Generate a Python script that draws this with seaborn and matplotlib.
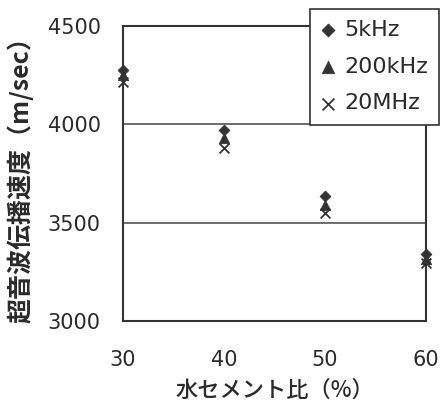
import matplotlib
matplotlib.use("Agg")
import matplotlib.pyplot as plt
import seaborn as sns
import pandas as pd

# water-cement ratio (%) and ultrasonic pulse velocity (m/sec) per frequency
wc_ratio = [30, 40, 50, 60]
v_5khz = [4275, 3970, 3635, 3340]
v_200khz = [4250, 3930, 3590, 3315]
v_20mhz = [4215, 3880, 3550, 3295]
series_names = ["5kHz", "200kHz", "20MHz"]
x_ticks = [30, 40, 50, 60]
y_ticks = [3000, 3500, 4000, 4500]

sns.set_theme(style="white")
plt.rcParams["font.family"] = ["DejaVu Sans", "Noto Sans CJK JP"]

ink = "#333333"
txt = "#2a2a2a"
fig = plt.figure(figsize=(4.4, 4.03), dpi=100)
ax = fig.add_axes([123 / 440, 1 - 321 / 403, (426 - 123) / 440, (321 - 26) / 403])

series = [
    (series_names[0], v_5khz, "D", 30, dict(edgecolor=ink, linewidth=0.6)),
    (series_names[1], v_200khz, "^", 55, dict(edgecolor=ink, linewidth=0.6)),
    (series_names[2], v_20mhz, "x", 50, dict(linewidth=1.3)),
]
for name, vals, mk, size, kw in series:
    df = pd.DataFrame({"wc": wc_ratio, "v": vals})
    sns.scatterplot(data=df, x="wc", y="v", marker=mk, s=size, color=ink,
                    label=name, ax=ax, clip_on=False, zorder=3, **kw)

ax.set_xlim(30, 60)
ax.set_ylim(3000, 4500)
ax.set_xticks(x_ticks)
ax.set_yticks(y_ticks)
for y in (3500, 4000):
    ax.axhline(y, color="#444444", lw=1.1, zorder=0)

for s in ax.spines.values():
    s.set_visible(True)
    s.set_color(ink)
    s.set_linewidth(1.5)

ax.tick_params(axis="x", direction="in", length=5, width=1, color=ink,
               labelsize=15, labelcolor=txt, pad=21)
ax.tick_params(axis="y", direction="in", length=0, labelsize=15,
               labelcolor=txt, pad=16)

ax.set_xlabel("水セメント比（%）", fontsize=16, color=txt, labelpad=6,
              family=["Noto Sans CJK JP", "DejaVu Sans"], fontweight="medium")
ax.set_ylabel("超音波伝播速度（m/sec）", fontsize=18, color=txt,
              labelpad=10, family=["Noto Sans CJK JP", "DejaVu Sans"],
              fontweight="bold")

leg = ax.legend(loc="upper right", bbox_to_anchor=(439 / 440, 1 - 9 / 403),
                bbox_transform=fig.transFigure, frameon=True, fancybox=False,
                fontsize=16, handletextpad=0.35, borderpad=0.5,
                labelspacing=0.75, handlelength=0.7, borderaxespad=0,
                markerscale=1.2)
leg.get_frame().set_edgecolor(ink)
leg.get_frame().set_linewidth(1.2)
leg.get_frame().set_alpha(1)
for t in leg.get_texts():
    t.set_color(txt)

fig.savefig("out.png", dpi=100)
